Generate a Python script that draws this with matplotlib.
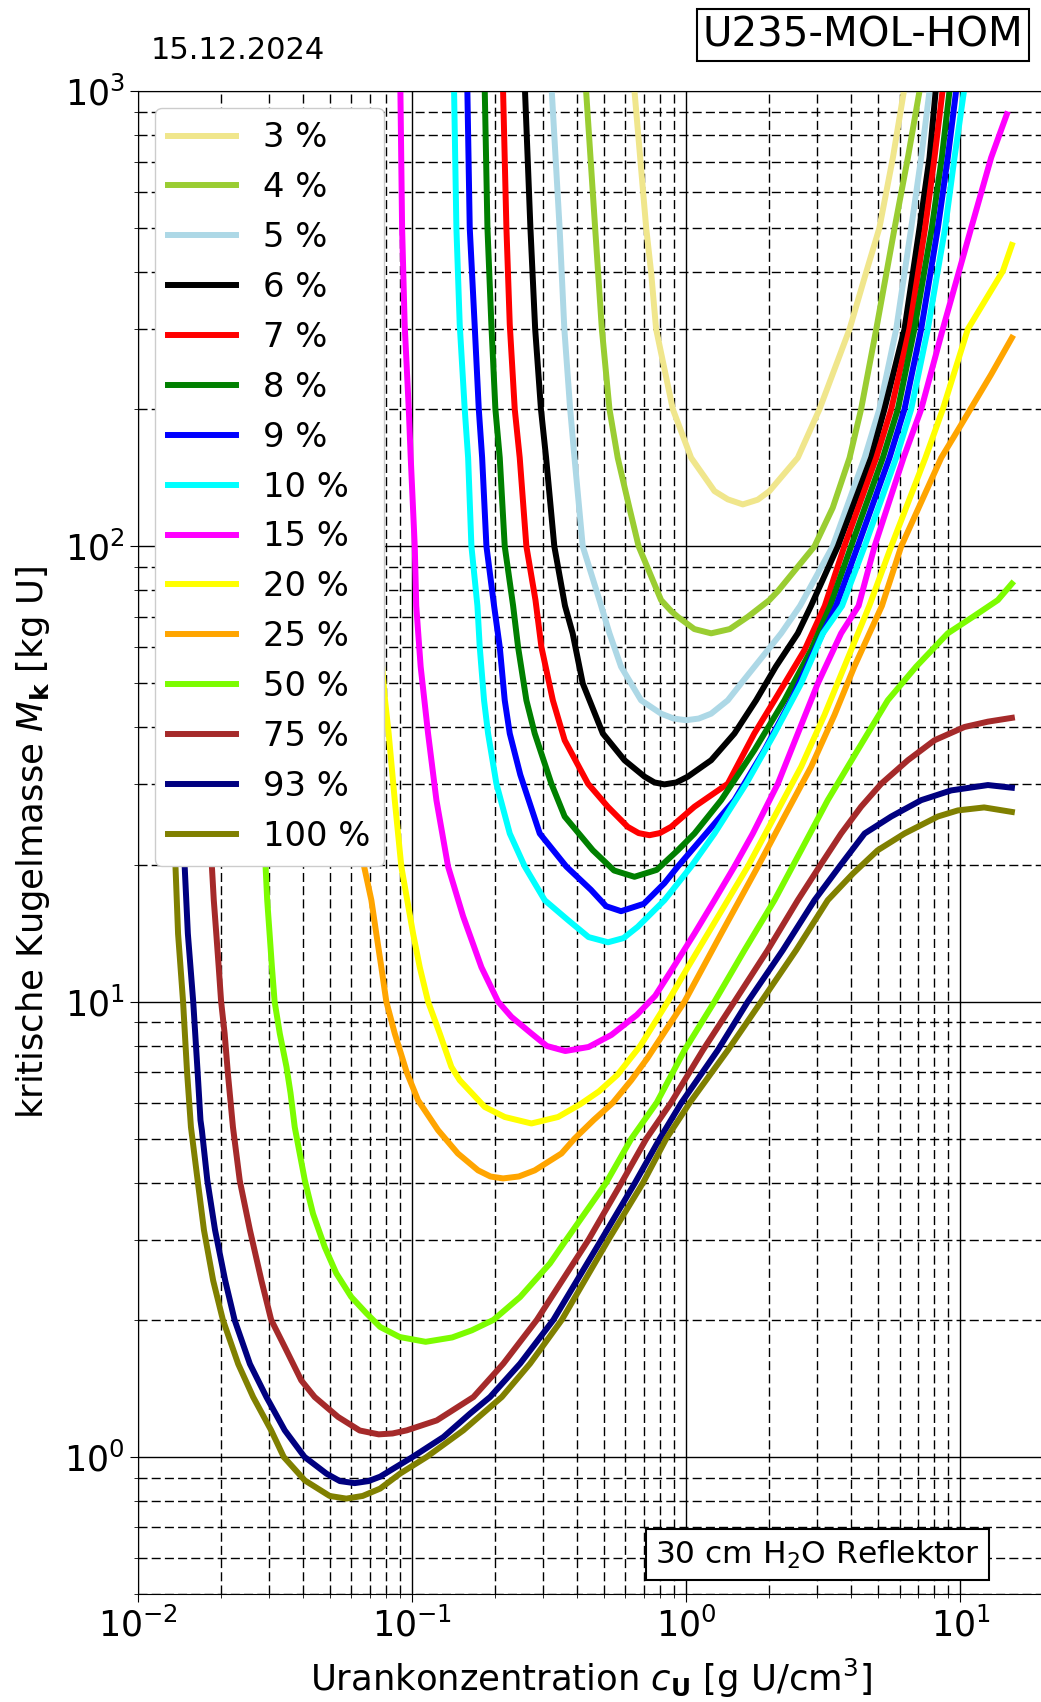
import matplotlib
matplotlib.use("Agg")
import matplotlib.pyplot as plt

# critical sphere mass vs. uranium concentration, per enrichment
# (c in g U/cm3, M in kg U)
c_03 = [0.638, 0.647, 0.714, 0.744, 0.776, 0.893, 1.041, 1.267, 1.417, 1.607, 1.823, 2.01, 2.55, 3.06, 3.94, 4.53, 5.06, 5.67, 6.22, 6.5]
m_03 = [1100, 1000, 500, 400, 300, 200, 156.5, 132.2, 126.8, 123.6, 126.6, 132.2, 156.5, 200, 300, 400, 500, 714, 1000, 1100]

c_04 = [0.424, 0.431, 0.465, 0.492, 0.5245, 0.562, 0.62, 0.67, 0.809, 0.88, 0.931, 1.07, 1.232, 1.44, 1.676, 2.01, 2.157, 2.935, 3.42, 3.94, 4.34, 4.93, 5.75, 6.43, 7.09, 7.4]
m_04 = [1100, 1000, 500, 300, 200, 156.5, 121.5, 100, 76.2, 72.1, 70, 65.8, 64.4, 65.8, 70, 76.2, 79.7, 100, 121.5, 156.5, 200, 300, 500, 714, 1000, 1100]

c_05 = [0.316, 0.323, 0.345, 0.359, 0.377, 0.391, 0.419, 0.482, 0.5245, 0.578, 0.684, 0.809, 0.9, 0.998, 1.11, 1.232, 1.417, 1.585, 1.773, 2.218, 2.60, 3.42, 4.47, 5.06, 5.83, 6.61, 7.19, 7.71, 8.0]
m_05 = [1100, 1000, 500, 300, 200, 156.5, 100, 76.2, 64.4, 54.4, 45.9, 42.9, 41.85, 41.5, 41.85, 42.9, 45.9, 50, 54.4, 64.4, 74, 100, 156.5, 200, 300, 500, 714, 1000, 1100]

c_06 = [0.252, 0.258, 0.270, 0.281, 0.295, 0.308, 0.330, 0.361, 0.385, 0.419, 0.496, 0.595, 0.704, 0.765, 0.832, 0.92, 1.013, 1.232, 1.498, 1.797, 2.12, 2.551, 2.85, 3.57, 4.72, 5.28, 6.25, 7.09, 7.71, 8.12, 8.4]
m_06 = [1100, 1000, 500, 300, 200, 156.5, 100, 74, 64.4, 50, 38.8, 33.9, 31.2, 30.3, 30.0, 30.3, 31.2, 33.9, 38.8, 45.9, 54.4, 64.4, 74, 100, 156.5, 200, 300, 500, 714, 1000, 1100]

c_07 = [0.210, 0.2146, 0.2207, 0.227, 0.2367, 0.2468, 0.261, 0.2817, 0.2961, 0.326, 0.360, 0.438, 0.517, 0.6115, 0.67, 0.734, 0.80, 0.880, 1.071, 1.417, 1.77, 2.097, 2.70, 3.2, 3.77, 4.93, 5.59, 6.51, 7.43, 8.04, 8.6, 8.9]
m_07 = [1100, 1000, 500, 307, 200, 156.5, 100, 76.2, 60.1, 45.9, 37.5, 30.1, 26.8, 24.2, 23.45, 23.2, 23.45, 24.2, 26.8, 30.1, 38.8, 45.9, 59.2, 74, 100, 156.5, 200, 300, 500, 714, 1000, 1100]

c_08 = [0.180, 0.184, 0.1882, 0.1945, 0.2012, 0.2087, 0.2176, 0.2335, 0.2434, 0.261, 0.280, 0.322, 0.36, 0.456, 0.545, 0.647, 0.78, 0.931, 1.071, 1.34, 1.773, 2.28, 2.853, 3.35, 3.99, 5.21, 5.91, 6.79, 7.86, 8.55, 9.12, 9.4]
m_08 = [1100, 1000, 500, 307, 200, 156.5, 100, 74, 60.1, 45.9, 38.8, 30.1, 25.5, 21.5, 19.41, 18.8, 19.47, 21.5, 23.4, 27.7, 35.7, 45.9, 59.2, 74, 100, 156.5, 200, 300, 500, 714, 1000, 1100]

c_09 = [0.155, 0.159, 0.1622, 0.169, 0.175, 0.180, 0.1866, 0.199, 0.2087, 0.2176, 0.227, 0.248, 0.292, 0.365, 0.449, 0.51, 0.578, 0.70, 0.832, 0.931, 1.181, 1.498, 1.928, 2.412, 2.935, 3.52, 4.22, 5.51, 6.25, 7.19, 8.27, 8.99, 9.64, 10.0]
m_09 = [1100, 1000, 500, 307, 200, 156.5, 100, 74, 60.1, 45.9, 38.8, 31.5, 23.4, 19.8, 17.6, 16.2, 15.8, 16.4, 18.2, 19.8, 23.4, 27.7, 35.7, 45.9, 59.2, 74, 100, 156.5, 200, 300, 500, 714, 1000, 1100]

c_10 = [0.138, 0.1422, 0.145, 0.1491, 0.1555, 0.160, 0.1645, 0.173, 0.1764, 0.1829, 0.1892, 0.2029, 0.227, 0.2575, 0.3045, 0.3705, 0.44, 0.518, 0.59, 0.665, 0.832, 1.041, 1.267, 1.653, 2.097, 2.623, 3.15, 3.70, 4.47, 5.83, 6.61, 7.60, 8.79, 9.51, 10.3, 10.7]
m_10 = [1100, 1000, 500, 307, 200, 156.5, 100, 74, 60.1, 45.9, 38.8, 30.1, 23.4, 19.8, 16.7, 15.1, 13.86, 13.5, 13.79, 14.6, 16.7, 19.8, 23.4, 30.1, 38.8, 50, 64.4, 74, 100, 156.5, 200, 300, 500, 714, 1000, 1100]

c_15 = [0.088, 0.0906, 0.0919, 0.0939, 0.0972, 0.0988, 0.1022, 0.1035, 0.1074, 0.1143, 0.1226, 0.1352, 0.1534, 0.1789, 0.2058, 0.2301, 0.2723, 0.31, 0.362, 0.44, 0.533, 0.66, 0.77, 0.905, 1.07, 1.267, 1.498, 1.748, 2.157, 2.551, 3.018, 3.67, 4.25, 4.86, 6.2, 7.19, 8.62, 10.94, 12.94, 14.76]
m_15 = [1100, 1000, 500, 307, 200, 156.5, 100, 74, 54.4, 38.8, 27.7, 19.8, 15.4, 11.9, 10, 9.26, 8.51, 7.99, 7.79, 7.95, 8.45, 9.35, 10.3, 12.0, 14.1, 16.7, 19.8, 23.4, 30.1, 38.8, 50, 64.4, 74, 100, 156.5, 200, 300, 500, 714, 889]

c_20 = [0.075, 0.0794, 0.0821, 0.0864, 0.0913, 0.1008, 0.1066, 0.1143, 0.1261, 0.139, 0.1491, 0.184, 0.2176, 0.2723, 0.3406, 0.41, 0.48, 0.56, 0.68, 0.856, 1.013, 1.198, 1.676, 2.097, 2.623, 3.19, 3.77, 4.65, 5.59, 7.45, 8.62, 10.64, 14.27, 15.4]
m_20 = [70, 46.7, 38.8, 27.7, 19.8, 14.1, 11.9, 10, 8.51, 7.19, 6.72, 5.87, 5.58, 5.40, 5.58, 5.95, 6.35, 6.9, 8.0, 10, 11.9, 14.1, 19.8, 25.5, 32.8, 42.6, 54.4, 74, 100, 156.5, 200, 300, 402, 459]

c_25 = [0.063, 0.0668, 0.0710, 0.0740, 0.0772, 0.0805, 0.0864, 0.0955, 0.1051, 0.1243, 0.1468, 0.174, 0.193, 0.2146, 0.245, 0.280, 0.3505, 0.391, 0.46, 0.54, 0.63, 0.72, 0.985, 1.34, 1.824, 2.28, 2.853, 3.47, 4.10, 5.17, 6.08, 8.51, 10.06, 12.94, 15.4]
m_25 = [28, 19.8, 16.7, 14.1, 11.9, 10, 8.51, 7.0, 6.07, 5.22, 4.64, 4.26, 4.13, 4.09, 4.13, 4.26, 4.64, 5.0, 5.5, 6.0, 6.72, 7.5, 10, 14.1, 19.8, 25.5, 32.8, 42.6, 54.4, 74, 100, 156.5, 185, 238.5, 287]

c_50 = [0.0278, 0.0292, 0.0296, 0.0302, 0.0308, 0.0315, 0.0329, 0.0348, 0.0360, 0.0373, 0.0406, 0.0435, 0.048, 0.0529, 0.060, 0.068, 0.0764, 0.09, 0.112, 0.14, 0.165, 0.198, 0.2476, 0.318, 0.365, 0.51, 0.63, 0.78, 0.985, 1.267, 1.63, 2.097, 2.623, 3.28, 4.22, 5.43, 6.89, 8.99, 11.1, 13.69, 15.4]
m_50 = [30, 19.8, 16.7, 14.1, 11.9, 10, 8.51, 7.19, 6.3, 5.3, 4.05, 3.42, 2.89, 2.53, 2.245, 2.07, 1.93, 1.834, 1.79, 1.83, 1.897, 2.0, 2.245, 2.66, 3.0, 4.0, 5.0, 6.0, 7.82, 10, 12.97, 16.7, 21.5, 27.7, 35.7, 45.9, 54.4, 64.4, 70, 76.2, 82.8]

c_75 = [0.0175, 0.0186, 0.0189, 0.0193, 0.0197, 0.0201, 0.0207, 0.0213, 0.0222, 0.0235, 0.0256, 0.0282, 0.0306, 0.0343, 0.0394, 0.0441, 0.0537, 0.0644, 0.0755, 0.0848, 0.0956, 0.123, 0.1673, 0.2151, 0.285, 0.44, 0.58, 0.715, 0.88, 1.149, 1.498, 1.98, 2.55, 3.06, 3.67, 4.34, 5.14, 6.43, 8.04, 10.34, 12.59, 15.4]
m_75 = [30, 19.8, 16.7, 14.1, 11.9, 10, 8.51, 6.9, 5.3, 4.05, 3.15, 2.44, 2.0, 1.744, 1.473, 1.354, 1.224, 1.143, 1.121, 1.126, 1.144, 1.203, 1.354, 1.603, 2.0, 3.0, 4.0, 5.0, 6.0, 7.82, 10, 12.97, 16.7, 19.8, 23.4, 26.8, 30.1, 33.9, 37.5, 40.1, 41.2, 42.0]

c_93 = [0.0139, 0.0148, 0.0152, 0.0159, 0.0165, 0.0169, 0.0171, 0.0179, 0.0191, 0.0208, 0.0225, 0.0256, 0.0294, 0.0343, 0.0405, 0.0487, 0.0545, 0.0617, 0.0693, 0.0764, 0.1004, 0.13, 0.1626, 0.1924, 0.2476, 0.3275, 0.49, 0.65, 0.80, 0.96, 1.302, 1.676, 2.249, 2.935, 3.62, 4.47, 5.59, 7.19, 9.25, 12.59, 15.4]
m_93 = [30, 19.8, 14.1, 10, 7.0, 5.49, 5.22, 4.05, 3.15, 2.44, 2.0, 1.60, 1.354, 1.144, 1.0, 0.919, 0.885, 0.876, 0.885, 0.905, 1.0, 1.106, 1.245, 1.354, 1.603, 2.0, 3.0, 4.0, 5.0, 6.0, 7.82, 10, 12.97, 16.7, 19.8, 23.4, 25.5, 27.7, 29.1, 29.9, 29.5]

c_100 = [0.0128, 0.0137, 0.0140, 0.0146, 0.0151, 0.0156, 0.0165, 0.0174, 0.0188, 0.0204, 0.0232, 0.0263, 0.0306, 0.034, 0.0406, 0.05, 0.0575, 0.066, 0.0764, 0.0903, 0.113, 0.1537, 0.2123, 0.2692, 0.3514, 0.52, 0.695, 0.845, 1.03, 1.417, 1.875, 2.515, 3.28, 4.05, 4.99, 6.25, 8.27, 9.78, 12.2, 15.4]
m_100 = [30, 19.8, 14.1, 10, 7.0, 5.3, 4.05, 3.15, 2.44, 2.0, 1.60, 1.354, 1.144, 1.0, 0.888, 0.821, 0.81, 0.821, 0.852, 0.919, 1.0, 1.144, 1.354, 1.603, 2.0, 3.0, 4.0, 5.0, 6.0, 7.82, 10, 12.97, 16.7, 19.1, 21.5, 23.4, 25.5, 26.3, 26.7, 26.1]

labels = ["3 %", "4 %", "5 %", "6 %", "7 %", "8 %", "9 %", "10 %", "15 %",
          "20 %", "25 %", "50 %", "75 %", "93 %", "100 %"]

series = [(c_03, m_03), (c_04, m_04), (c_05, m_05), (c_06, m_06), (c_07, m_07),
          (c_08, m_08), (c_09, m_09), (c_10, m_10), (c_15, m_15), (c_20, m_20),
          (c_25, m_25), (c_50, m_50), (c_75, m_75), (c_93, m_93), (c_100, m_100)]
colors = ["khaki", "yellowgreen", "lightblue", "black", "red", "green", "blue",
          "cyan", "magenta", "yellow", "orange", "lawngreen", "brown", "navy", "olive"]

FS = 25

fig = plt.figure(figsize=(10.41, 17.02), dpi=100)
ax = fig.add_axes([138/1041, 108/1702, 905/1041, 1503/1702])

for (c, m), lab, col in zip(series, labels, colors):
    ax.plot(c, m, color=col, lw=4.3, label=lab, solid_joinstyle="round")

ax.set_xscale("log")
ax.set_yscale("log")
ax.set_xlim(0.01, 20)
ax.set_ylim(0.5, 1000)

ax.grid(which="major", color="k", linestyle="-", lw=1.0)
ax.grid(which="minor", color="k", linestyle=(0, (6.5, 3)), lw=1.0)
ax.tick_params(which="major", labelsize=FS, length=6)
ax.tick_params(which="minor", length=3)

ax.set_xlabel(r"Urankonzentration $c_\mathbf{U}$ [g U/cm$^3$]", fontsize=25.5, labelpad=10)
ax.set_ylabel(r"kritische Kugelmasse $M_\mathbf{k}$ [kg U]", fontsize=25.5, labelpad=9)

ax.legend(loc="upper left", fontsize=24.3, framealpha=1)

ax.text(0.751, 0.026, r"30 cm H$_2$O Reflektor", transform=ax.transAxes,
        ha="center", va="center", fontsize=22.5,
        bbox=dict(boxstyle="square,pad=0.3", fc="white", ec="black", lw=1.5))

fig.text(0.829, 0.9794, "U235-MOL-HOM", fontsize=29, ha="center", va="center",
         bbox=dict(boxstyle="square,pad=0.15", fc="white", ec="black", lw=1.5))
fig.text(0.2288, 0.9706, "15.12.2024", fontsize=22, ha="center", va="center")

fig.savefig("out.png", dpi=100)
